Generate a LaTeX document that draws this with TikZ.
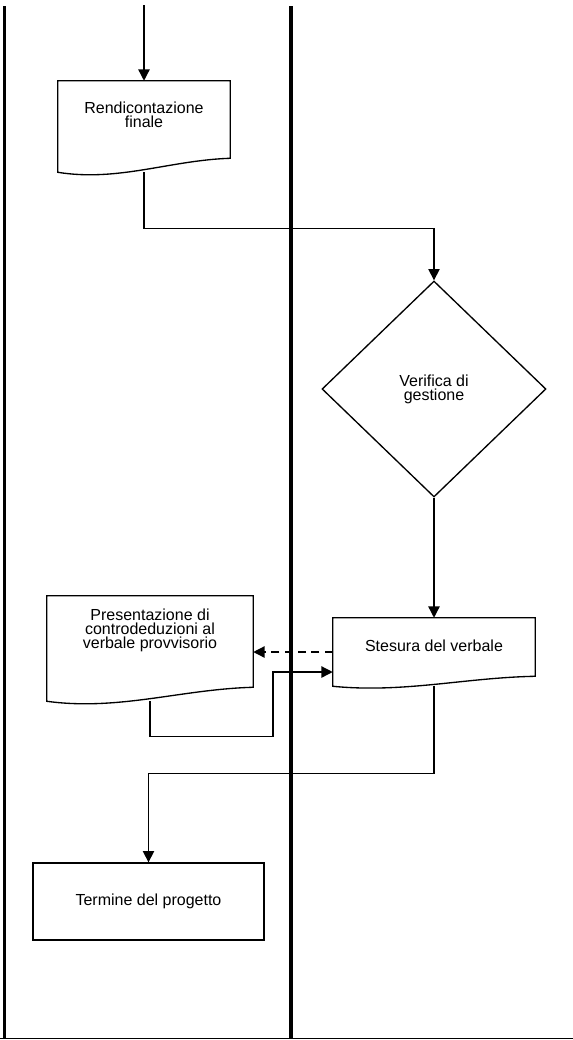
\documentclass[tikz,border=0pt]{standalone}
\usepackage{fontspec}
\setmainfont{Liberation Sans}
\usetikzlibrary{shapes.geometric,arrows.meta,calc}

\newcommand{\boxfont}{\fontsize{12}{10.5}\selectfont\lineskiplimit=-20pt\relax}

\tikzset{
  flow/.style={line width=1pt,-{Triangle[length=8.5pt,width=8.5pt]}},
  boxline/.style={line width=1pt},
  txt/.style={align=center,inner sep=0pt,font={\boxfont}},
  docbox/.style={rectangle,inner sep=0pt},
  decision/.style={diamond,draw,boxline,txt,minimum width=168pt,minimum height=162pt},
  process/.style={rectangle,draw,boxline,txt,minimum width=173.25pt,minimum height=57.75pt},
  lane/.style={line width=#1},
}

% document outline (box with wavy bottom) around a named node
\newcommand{\docwave}[2]{%
  \draw[boxline] (#1.north west) -- (#1.north east) -- ($(#1.south east)+(0,-#2)$)
    .. controls ($(#1.south east)!0.35!(#1.south west)+(0,{-0.86*#2})$)
    and ($(#1.south east)!0.65!(#1.south west)+(0,{0.7*#2})$) .. (#1.south west) -- cycle;}

\begin{document}
\begin{tikzpicture}[x=0.75pt,y=-0.75pt]
  \useasboundingbox (0,0) rectangle (573,1040);

  % lanes
  \draw[lane=2.25pt] (4.7,6) -- (4.7,1038.5);
  \draw[lane=3pt] (290.5,6) -- (290.5,1038.5);
  \draw[lane=0.75pt] (0,1038.5) -- (573,1038.5);

  % boxes
  \node[docbox,minimum width=129pt,minimum height=68.25pt] (rend) at (144,126.5) {};
  \docwave{rend}{14}
  \node[txt,anchor=north] (rendtxt) at (144,102) {Rendicontazione\\finale};

  \node[decision] (verif) at (434,389) {Verifica di\\gestione};

  \node[docbox,minimum width=151.5pt,minimum height=51pt] (stes) at (434,652) {};
  \docwave{stes}{10}
  \node[txt,anchor=north] (stestxt) at (434,640) {Stesura del verbale};

  \node[docbox,minimum width=154.5pt,minimum height=78.75pt] (pres) at (150,648.5) {};
  \docwave{pres}{14}
  \node[txt,anchor=north] (prestxt) at (150,609) {Presentazione di\\controdeduzioni al\\verbale provvisorio};

  \node[process] (term) at (148.5,901.5) {Termine del progetto};

  % connectors
  \coordinate (start) at (144,5);
  \draw[flow] (start) -- (rend.north);
  \draw[flow] (rend.south) -- ++(0,56) -| (verif.north);
  \draw[flow] (verif.south) -- (stes.north);
  \draw[flow,dash pattern=on 6pt off 4pt] (stes.west) -- (stes.west -| pres.east);
  \draw[flow] (pres.south) -- ++(0,35) -- ++(123,0) |- ($(stes.west)+(0,20)$);
  \draw[flow] (stes.south) -- ++(0,87) -| (term.north);
\end{tikzpicture}
\end{document}
